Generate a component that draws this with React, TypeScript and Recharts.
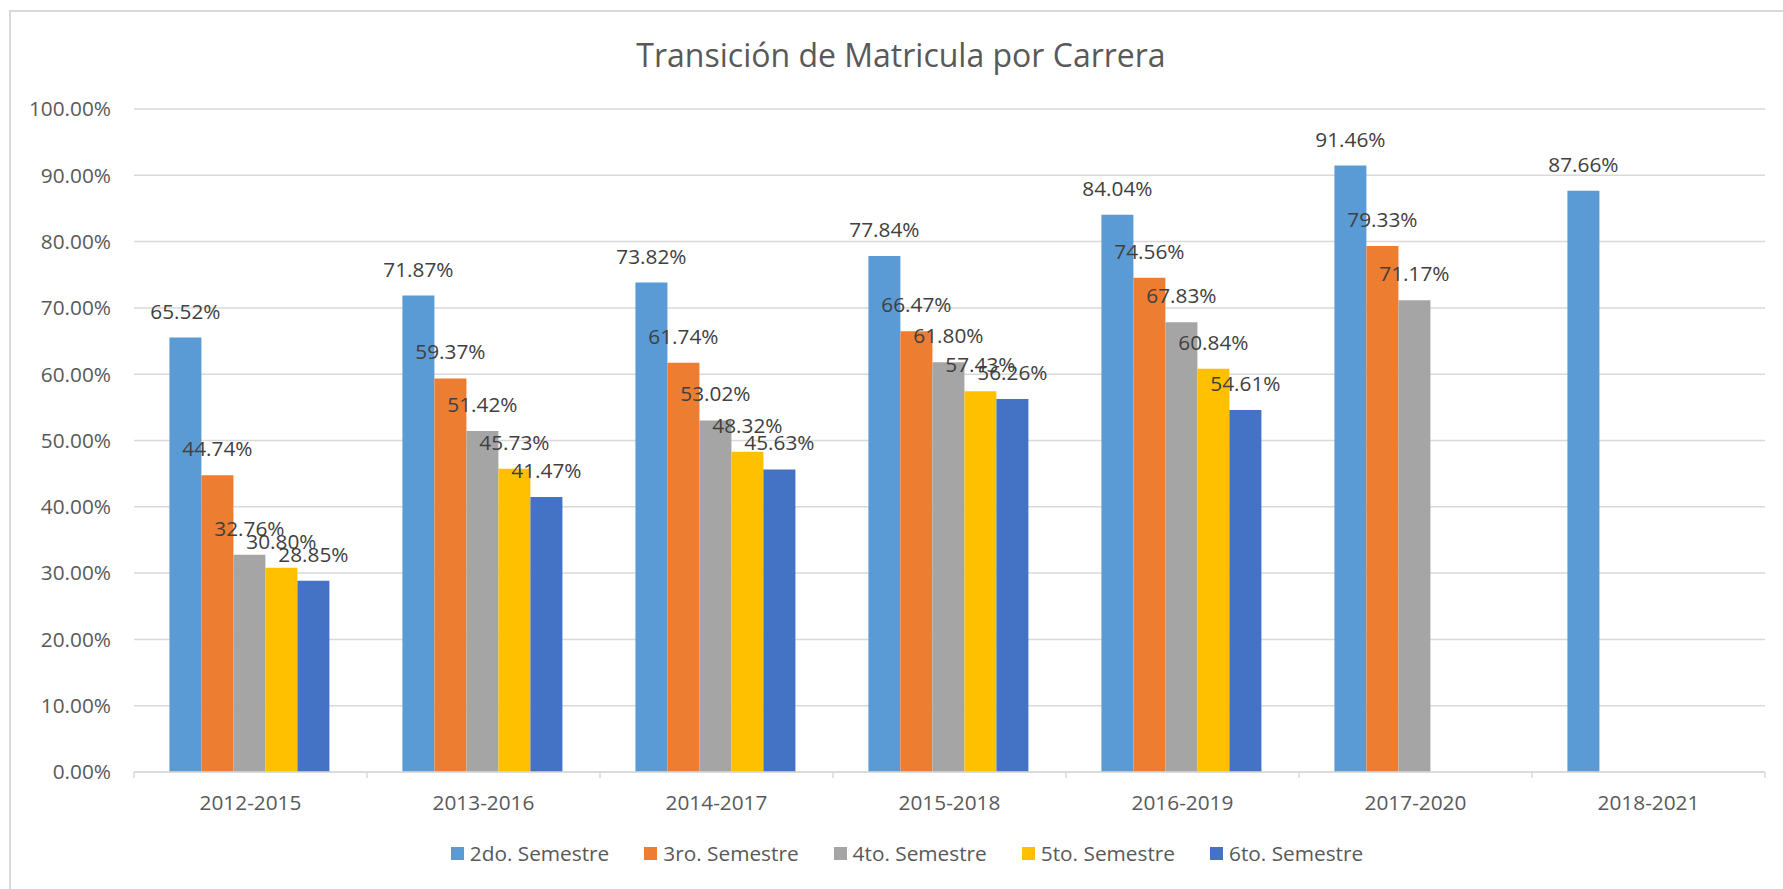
import { BarChart, Bar, XAxis, YAxis, CartesianGrid, Legend, LabelList } from "recharts";

const categories = ["2012-2015", "2013-2016", "2014-2017", "2015-2018", "2016-2019", "2017-2020", "2018-2021"];
const seriesNames = ["2do. Semestre", "3ro. Semestre", "4to. Semestre", "5to. Semestre", "6to. Semestre"];
const sem2 = [65.52, 71.87, 73.82, 77.84, 84.04, 91.46, 87.66];
const sem3 = [44.74, 59.37, 61.74, 66.47, 74.56, 79.33, null];
const sem4 = [32.76, 51.42, 53.02, 61.8, 67.83, 71.17, null];
const sem5 = [30.8, 45.73, 48.32, 57.43, 60.84, null, null];
const sem6 = [28.85, 41.47, 45.63, 56.26, 54.61, null, null];
const yTicks = [0, 10, 20, 30, 40, 50, 60, 70, 80, 90, 100];

const colors = ["#5B9BD5", "#ED7D31", "#A5A5A5", "#FFC000", "#4472C4"];
const keys = ["s2", "s3", "s4", "s5", "s6"];
const FONT = "'Open Sans', sans-serif";
const FS = 20.8;
const TEXT = "#595959";

const data = categories.map((cat, i) => ({
  cat,
  s2: sem2[i],
  s3: sem3[i],
  s4: sem4[i],
  s5: sem5[i],
  s6: sem6[i],
}));

const pct = (v: any) => (v == null ? "" : `${Number(v).toFixed(2)}%`);

function CategoryTick({ x, y, payload, index }: any) {
  const half = payload?.offset ?? 0;
  const axisY = y - 23;
  return (
    <g>
      <line x1={x - half} x2={x - half} y1={axisY} y2={axisY + 6} stroke="#d9d9d9" strokeWidth={1.5} />
      {index === categories.length - 1 && (
        <line x1={x + half} x2={x + half} y1={axisY} y2={axisY + 6} stroke="#d9d9d9" strokeWidth={1.5} />
      )}
      <text x={x} y={y} dy="0.71em" textAnchor="middle" fill={TEXT} fontFamily={FONT} fontSize={FS}>
        {payload.value}
      </text>
    </g>
  );
}

function LegendContent({ payload }: any) {
  return (
    <div
      style={{
        display: "flex",
        justifyContent: "center",
        alignItems: "center",
        gap: 35,
        height: 30,
        paddingLeft: 39,
        fontFamily: FONT,
        fontSize: FS,
        color: TEXT,
      }}
    >
      {(payload || []).map((p: any) => (
        <div key={p.value} style={{ display: "flex", alignItems: "center" }}>
          <span style={{ width: 13, height: 13, background: p.color, marginRight: 6, display: "inline-block" }} />
          {p.value}
        </div>
      ))}
    </div>
  );
}

export default function App() {
  return (
    <div
      style={{
        position: "absolute",
        left: 0,
        top: 0,
        width: 1783,
        height: 889,
        overflow: "hidden",
        background: "#fff",
      }}
    >
      <div
        style={{
          position: "absolute",
          left: 9,
          top: 10,
          width: 1820,
          height: 920,
          border: "2px solid #d9d9d9",
        }}
      />
      <div
        style={{
          position: "absolute",
          left: 9,
          top: 35,
          width: 1784,
          height: 40,
          lineHeight: "40px",
          textAlign: "center",
          fontFamily: FONT,
          fontSize: 32,
          color: TEXT,
        }}
      >
        Transición de Matricula por Carrera
      </div>
      <div style={{ position: "absolute", left: 0, top: 0 }}>
        <BarChart
          width={1783}
          height={889}
          data={data}
          margin={{ top: 109, right: 18, bottom: 21, left: 10 }}
          barCategoryGap="15.2%"
          barGap={0}
        >
          <CartesianGrid vertical={false} stroke="#d9d9d9" strokeWidth={1.5} />
          <XAxis
            dataKey="cat"
            height={66}
            tickLine={false}
            tickSize={0}
            tickMargin={23}
            axisLine={{ stroke: "#d9d9d9", strokeWidth: 1.5 }}
            tick={<CategoryTick />}
            interval={0}
          />
          <YAxis
            width={124}
            domain={[0, 100]}
            ticks={yTicks}
            axisLine={false}
            tickLine={false}
            tickSize={0}
            tickMargin={23}
            tickFormatter={pct}
            tick={{ fill: TEXT, fontFamily: FONT, fontSize: FS }}
          />
          <Legend verticalAlign="bottom" wrapperStyle={{ height: 30 }} content={<LegendContent />} />
          {keys.map((k, i) => (
            <Bar key={k} dataKey={k} name={seriesNames[i]} fill={colors[i]} isAnimationActive={false}>
              <LabelList
                dataKey={k}
                position="top"
                offset={19}
                formatter={pct}
                fill="#404040"
                fontFamily={FONT}
                fontSize={FS}
              />
            </Bar>
          ))}
        </BarChart>
      </div>
    </div>
  );
}
